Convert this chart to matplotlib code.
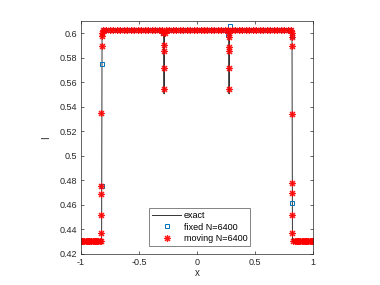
import numpy as np
import matplotlib.pyplot as plt

plt.rcParams['font.family'] = ['Liberation Sans', 'DejaVu Sans']

# exact solution (piecewise)
exact_x = [-1.0, -0.822, -0.818, -0.288, -0.284, -0.280, 0.272, 0.276, 0.280, 0.818, 0.822, 1.0]
exact_y = [0.4305, 0.4305, 0.6025, 0.6025, 0.5505, 0.6025, 0.6025, 0.5505, 0.6025, 0.6025, 0.4305, 0.4305]

low_level = 0.4305
high_level = 0.6025

# fixed mesh N=6400 (displayed nodes)
fixed_base_x = [-1.00, -0.98, -0.96, -0.94, -0.92, -0.90, -0.88, -0.86, -0.84,
                0.84, 0.86, 0.88, 0.90, 0.92, 0.94, 0.96, 0.98, 1.00]
fixed_top_x = [-0.80, -0.76, -0.72, -0.68, -0.64, -0.60, -0.56, -0.52, -0.48, -0.44,
               -0.40, -0.36, -0.32, -0.24, -0.20, -0.16, -0.12, -0.08, -0.04, 0.00,
               0.04, 0.08, 0.12, 0.16, 0.20, 0.24, 0.32, 0.36, 0.40, 0.44, 0.48,
               0.52, 0.56, 0.60, 0.64, 0.68, 0.72, 0.76, 0.80]
fixed_edge_x = [-0.822, -0.822, -0.290, 0.270, 0.285, 0.820, 0.822]
fixed_edge_y = [0.4755, 0.5750, 0.6000, 0.5986, 0.6058, 0.5978, 0.4616]

# moving mesh N=6400
moving_base_x = [-1.00, -0.99, -0.98, -0.97, -0.96, -0.95, -0.94, -0.93, -0.92,
                 -0.91, -0.90, -0.89, -0.88, -0.87, -0.86, -0.85, -0.84, -0.83,
                 0.83, 0.84, 0.85, 0.86, 0.87, 0.88, 0.89, 0.90, 0.91, 0.92,
                 0.93, 0.94, 0.95, 0.96, 0.97, 0.98, 0.99, 1.00]
moving_top_x = [-0.81, -0.78, -0.75, -0.72, -0.69, -0.66, -0.63, -0.60, -0.57, -0.54,
                -0.51, -0.48, -0.45, -0.42, -0.39, -0.36, -0.33, -0.30, -0.27, -0.24,
                -0.21, -0.18, -0.15, -0.12, -0.09, -0.06, -0.03, 0.00, 0.03, 0.06,
                0.09, 0.12, 0.15, 0.18, 0.21, 0.24, 0.27, 0.30, 0.33, 0.36, 0.39,
                0.42, 0.45, 0.48, 0.51, 0.54, 0.57, 0.60, 0.63, 0.66, 0.69, 0.72,
                0.75, 0.78, 0.81]
moving_edge_x = [-0.823, -0.823, -0.823, -0.823, -0.823, -0.822, -0.821, -0.820,
                 -0.290, -0.288, -0.285, -0.284, -0.284, -0.280,
                 0.272, 0.274, 0.276, 0.278, 0.276, 0.276,
                 0.815, 0.818, 0.820, 0.820, 0.822, 0.822, 0.822, 0.822]
moving_edge_y = [0.437, 0.452, 0.469, 0.4754, 0.535, 0.5896, 0.598, 0.600,
                 0.600, 0.5904, 0.585, 0.5717, 0.5545, 0.600,
                 0.600, 0.597, 0.589, 0.5855, 0.5717, 0.5545,
                 0.600, 0.597, 0.5896, 0.534, 0.478, 0.470, 0.452, 0.437]

fx = fixed_base_x + fixed_top_x + fixed_edge_x
fy = [low_level] * len(fixed_base_x) + [high_level] * len(fixed_top_x) + fixed_edge_y
mx = moving_base_x + moving_top_x + moving_edge_x
my = [low_level] * len(moving_base_x) + [high_level] * len(moving_top_x) + moving_edge_y

fig = plt.figure(figsize=(3.8, 2.85), dpi=100)
ax = fig.add_axes([0.213, 0.109, 0.611, 0.818])

ax.plot(exact_x, exact_y, color='#333333', lw=0.7, label='exact')
ax.plot(fx, fy, ls='none', marker='s', ms=3.5, mfc='none', mec='#0072BD', mew=0.7,
        label='fixed N=6400')
# MATLAB-like asterisk: eight-armed marker
ax.plot(mx, my, ls='none', marker=(8, 2, 0), ms=5, color='red', mec='red', mew=0.8,
        alpha=0.9, label='moving N=6400')

ax.set_xlim(-1, 1)
ax.set_ylim(0.42, 0.61)
ax.set_xticks([-1, -0.5, 0, 0.5, 1])
ax.set_xticklabels(['-1', '-0.5', '0', '0.5', '1'])
ax.set_yticks([0.42, 0.44, 0.46, 0.48, 0.5, 0.52, 0.54, 0.56, 0.58, 0.6])
ax.set_yticklabels(['0.42', '0.44', '0.46', '0.48', '0.5', '0.52', '0.54', '0.56', '0.58', '0.6'])
ax.tick_params(direction='in', top=True, right=True, labelsize=6.5, length=2.5,
               width=0.5, colors='#262626', pad=3)
for s in ax.spines.values():
    s.set_linewidth(0.5)
    s.set_color('#262626')
ax.set_xlabel('x', fontsize=7, color='#262626', labelpad=1)
ax.set_ylabel('I', fontsize=7, color='#262626', labelpad=6)

leg = ax.legend(loc='lower center', bbox_to_anchor=(0.512, 0.015), fontsize=6.5,
                frameon=True, fancybox=False, edgecolor='#262626', handlelength=3.2,
                borderpad=0.3, labelspacing=0.3, handletextpad=0.3)
leg.get_frame().set_linewidth(0.5)

fig.savefig('out.png', dpi=100)
